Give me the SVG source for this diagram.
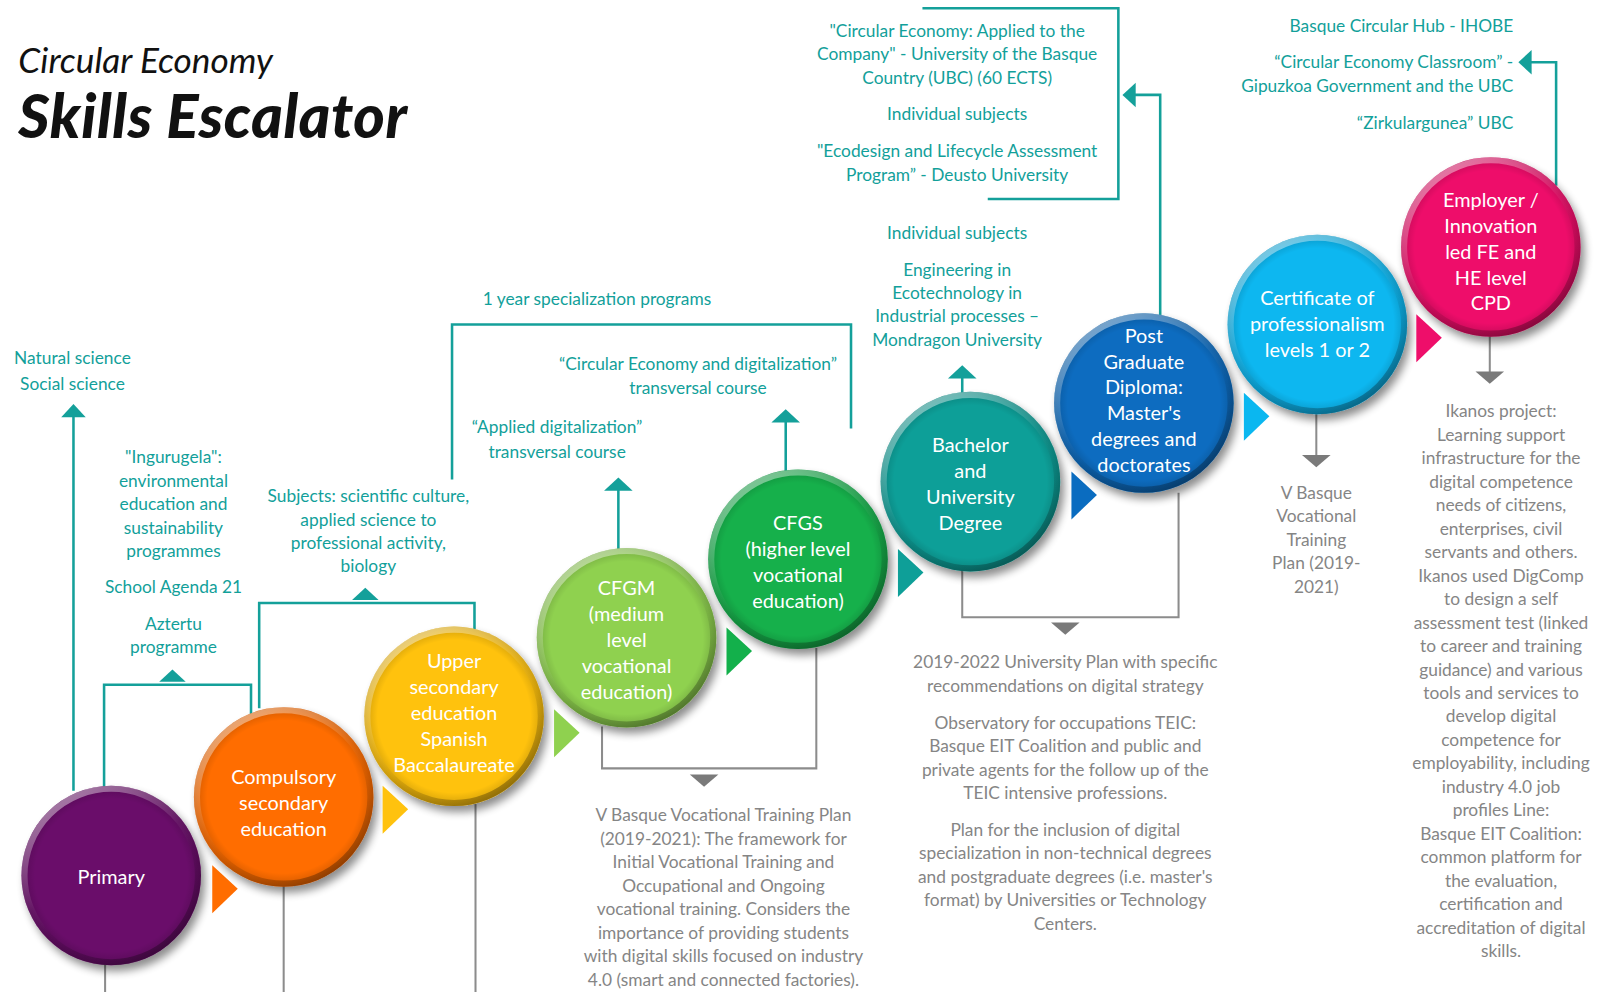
<svg xmlns="http://www.w3.org/2000/svg" width="1598" height="992" viewBox="0 0 1598 992">
<style>
.tt{font-family:Lato,"Open Sans","Liberation Sans",sans-serif;fill:#111}
.t{font-family:Lato,"Open Sans","Liberation Sans",sans-serif;font-size:17px;fill:#12a09a;text-anchor:middle}
.tr{text-anchor:end}
.g{font-family:Lato,"Open Sans","Liberation Sans",sans-serif;font-size:17px;fill:#858585;text-anchor:middle}
.w{font-family:Lato,"Open Sans","Liberation Sans",sans-serif;font-size:19.5px;fill:#fff;text-anchor:middle}
.tl{stroke:#14a09a;stroke-width:2.5;fill:none}
.gl{stroke:#8c8c8c;stroke-width:2;fill:none}
.ta{fill:#14a09a}
.ga{fill:#7a7a7a}
.ring{fill:none;stroke:url(#bevel);stroke-width:6}
.rim{fill:url(#rimg)}
</style>
<defs>
<filter id="sh" x="-25%" y="-25%" width="160%" height="160%">
<feGaussianBlur in="SourceAlpha" stdDeviation="4"/>
<feOffset dx="4" dy="6" result="o"/>
<feComponentTransfer><feFuncA type="linear" slope="0.45"/></feComponentTransfer>
<feMerge><feMergeNode/><feMergeNode in="SourceGraphic"/></feMerge>
</filter>
<linearGradient id="bevel" x1="0.2" y1="0" x2="0.8" y2="1">
<stop offset="0" stop-color="#fff" stop-opacity="0.5"/>
<stop offset="0.45" stop-color="#fff" stop-opacity="0.05"/>
<stop offset="0.6" stop-color="#000" stop-opacity="0.05"/>
<stop offset="1" stop-color="#000" stop-opacity="0.35"/>
</linearGradient>
<radialGradient id="rimg" cx="0.5" cy="0.5" r="0.5">
<stop offset="0.85" stop-color="#000" stop-opacity="0"/>
<stop offset="1" stop-color="#000" stop-opacity="0.18"/>
</radialGradient>
</defs>
<rect width="1598" height="992" fill="#fff"/>
<g transform="scale(1.0204)">
<g id="title">
<text class="tt" x="18" y="72" font-size="34.5" font-style="italic">Circular Economy</text>
<text class="tt" x="18" y="135" font-size="59" font-style="italic" font-weight="900" letter-spacing="0.6">Skills Escalator</text>
</g>

<g id="connectors">
<line class="tl" x1="72" y1="775" x2="72" y2="405"/>
<polygon class="ta" points="60,409 84,409 72,396"/>
<polyline class="tl" points="102,772 102,671 246,671 246,702"/>
<polygon class="ta" points="156,668 182,668 169,656"/>
<polyline class="tl" points="254,694 254,591 465,591 465,617"/>
<polygon class="ta" points="345,588 371,588 358,576"/>
<polyline class="tl" points="443,470 443,318 834,318 834,420"/>
<line class="tl" x1="606" y1="540" x2="606" y2="478"/>
<polygon class="ta" points="592,481 620,481 606,468"/>
<line class="tl" x1="770" y1="462" x2="770" y2="411"/>
<polygon class="ta" points="756,414 784,414 770,401"/>
<line class="tl" x1="943" y1="386" x2="943" y2="368"/>
<polygon class="ta" points="929,371 957,371 943,358"/>
<polyline class="tl" points="1137,312 1137,93 1110,93"/>
<polygon class="ta" points="1113,81 1113,105 1100,93"/>
<polyline class="tl" points="904,8 1096,8 1096,195 968,195"/>
<polyline class="tl" points="1525,182 1525,61 1498,61"/>
<polygon class="ta" points="1501,49 1501,73 1488,61"/>
<line class="gl" x1="103" y1="945" x2="103" y2="975"/>
<line class="gl" x1="278" y1="868" x2="278" y2="975"/>
<line class="gl" x1="466" y1="788" x2="466" y2="975"/>
<polyline class="gl" points="590,712 590,753 800,753 800,635"/>
<polygon class="ga" points="676,759 704,759 690,771"/>
<polyline class="gl" points="943,558 943,605 1155,605 1155,483"/>
<polygon class="ga" points="1030,610 1058,610 1044,622"/>
<line class="gl" x1="1290" y1="405" x2="1290" y2="448"/>
<polygon class="ga" points="1276,446 1304,446 1290,458"/>
<line class="gl" x1="1460" y1="328" x2="1460" y2="366"/>
<polygon class="ga" points="1446,364 1474,364 1460,376"/>
</g>

<g id="n-primary">
<circle cx="109" cy="858" r="88" fill="#6b0a6b" filter="url(#sh)"/>
<circle class="rim" cx="109" cy="858" r="88"/>
<circle class="ring" cx="109" cy="858" r="85"/>
<text class="w" x="109" y="866">Primary</text>
</g>
<g id="n-compulsory">
<polygon points="208,848 208,895 233,871" fill="#ff6d00"/>
<circle cx="278" cy="781" r="88" fill="#ff6d00" filter="url(#sh)"/>
<circle class="rim" cx="278" cy="781" r="88"/>
<circle class="ring" cx="278" cy="781" r="85"/>
<text class="w" x="278" y="768"><tspan x="278">Compulsory</tspan><tspan x="278" dy="25.5">secondary</tspan><tspan x="278" dy="25.5">education</tspan></text>
</g>
<g id="n-upper">
<polygon points="375,770 375,817 400,793" fill="#ffc20e"/>
<circle cx="445" cy="702" r="88" fill="#ffc20e" filter="url(#sh)"/>
<circle class="rim" cx="445" cy="702" r="88"/>
<circle class="ring" cx="445" cy="702" r="85"/>
<text class="w" x="445" y="655"><tspan x="445">Upper</tspan><tspan x="445" dy="25.5">secondary</tspan><tspan x="445" dy="25.5">education</tspan><tspan x="445" dy="25.5">Spanish</tspan><tspan x="445" dy="25.5">Baccalaureate</tspan></text>
</g>
<g id="n-cfgm">
<polygon points="543,695 543,742 568,718" fill="#8fd14f"/>
<circle cx="614" cy="625" r="88" fill="#8fd14f" filter="url(#sh)"/>
<circle class="rim" cx="614" cy="625" r="88"/>
<circle class="ring" cx="614" cy="625" r="85"/>
<text class="w" x="614" y="583"><tspan x="614">CFGM</tspan><tspan x="614" dy="25.5">(medium</tspan><tspan x="614" dy="25.5">level</tspan><tspan x="614" dy="25.5">vocational</tspan><tspan x="614" dy="25.5">education)</tspan></text>
</g>
<g id="n-cfgs">
<polygon points="712,615 712,662 737,638" fill="#13b04b"/>
<circle cx="782" cy="548" r="88" fill="#13b04b" filter="url(#sh)"/>
<circle class="rim" cx="782" cy="548" r="88"/>
<circle class="ring" cx="782" cy="548" r="85"/>
<text class="w" x="782" y="519"><tspan x="782">CFGS</tspan><tspan x="782" dy="25.5">(higher level</tspan><tspan x="782" dy="25.5">vocational</tspan><tspan x="782" dy="25.5">education)</tspan></text>
</g>
<g id="n-bachelor">
<polygon points="880,538 880,585 905,561" fill="#0e9f98"/>
<circle cx="951" cy="472" r="88" fill="#0e9f98" filter="url(#sh)"/>
<circle class="rim" cx="951" cy="472" r="88"/>
<circle class="ring" cx="951" cy="472" r="85"/>
<text class="w" x="951" y="443"><tspan x="951">Bachelor</tspan><tspan x="951" dy="25.5">and</tspan><tspan x="951" dy="25.5">University</tspan><tspan x="951" dy="25.5">Degree</tspan></text>
</g>
<g id="n-postgrad">
<polygon points="1050,462 1050,509 1075,485" fill="#0a6cc0"/>
<circle cx="1121" cy="395" r="88" fill="#0a6cc0" filter="url(#sh)"/>
<circle class="rim" cx="1121" cy="395" r="88"/>
<circle class="ring" cx="1121" cy="395" r="85"/>
<text class="w" x="1121" y="336"><tspan x="1121">Post</tspan><tspan x="1121" dy="25.3">Graduate</tspan><tspan x="1121" dy="25.3">Diploma:</tspan><tspan x="1121" dy="25.3">Master's</tspan><tspan x="1121" dy="25.3">degrees and</tspan><tspan x="1121" dy="25.3">doctorates</tspan></text>
</g>
<g id="n-certificate">
<polygon points="1219,385 1219,432 1244,408" fill="#0ab7f0"/>
<circle cx="1291" cy="318" r="88" fill="#0ab7f0" filter="url(#sh)"/>
<circle class="rim" cx="1291" cy="318" r="88"/>
<circle class="ring" cx="1291" cy="318" r="85"/>
<text class="w" x="1291" y="299"><tspan x="1291">Certificate of</tspan><tspan x="1291" dy="25.5">professionalism</tspan><tspan x="1291" dy="25.5">levels 1  or 2</tspan></text>
</g>
<g id="n-employer">
<polygon points="1388,308 1388,355 1413,331" fill="#ee0e6a"/>
<circle cx="1461" cy="242" r="88" fill="#ee0e6a" filter="url(#sh)"/>
<circle class="rim" cx="1461" cy="242" r="88"/>
<circle class="ring" cx="1461" cy="242" r="85"/>
<text class="w" x="1461" y="203"><tspan x="1461">Employer /</tspan><tspan x="1461" dy="25.3">Innovation</tspan><tspan x="1461" dy="25.3">led FE and</tspan><tspan x="1461" dy="25.3">HE level</tspan><tspan x="1461" dy="25.3">CPD</tspan></text>
</g>

<g id="l-primary-up">
<text class="t" x="71" y="357"><tspan x="71">Natural science</tspan><tspan x="71" dy="25">Social science</tspan></text>
</g>
<g id="l-ingurugela">
<text class="t" x="170" y="454"><tspan x="170">"Ingurugela":</tspan><tspan x="170" dy="23">environmental</tspan><tspan x="170" dy="23">education and</tspan><tspan x="170" dy="23">sustainability</tspan><tspan x="170" dy="23">programmes</tspan><tspan x="170" dy="35">School Agenda 21</tspan><tspan x="170" dy="36">Aztertu</tspan><tspan x="170" dy="23">programme</tspan></text>
</g>
<g id="l-subjects">
<text class="t" x="361" y="492"><tspan x="361">Subjects: scientific culture,</tspan><tspan x="361" dy="23">applied science to</tspan><tspan x="361" dy="23">professional activity,</tspan><tspan x="361" dy="23">biology</tspan></text>
</g>
<g id="l-1year">
<text class="t" x="585" y="299">1 year specialization programs</text>
</g>
<g id="l-applied">
<text class="t" x="546" y="424"><tspan x="546">“Applied digitalization”</tspan><tspan x="546" dy="25">transversal course</tspan></text>
</g>
<g id="l-ce-digital">
<text class="t" x="684" y="363"><tspan x="684">“Circular Economy and digitalization”</tspan><tspan x="684" dy="23">transversal course</tspan></text>
</g>
<g id="l-bachelor-up">
<text class="t" x="938" y="234"><tspan x="938">Individual subjects</tspan><tspan x="938" dy="36">Engineering in</tspan><tspan x="938" dy="23">Ecotechnology in</tspan><tspan x="938" dy="23">Industrial processes –</tspan><tspan x="938" dy="23">Mondragon University</tspan></text>
</g>
<g id="l-postgrad-up">
<text class="t" x="938" y="36"><tspan x="938">"Circular Economy: Applied to the</tspan><tspan x="938" dy="23">Company" - University of the Basque</tspan><tspan x="938" dy="23">Country (UBC) (60 ECTS)</tspan><tspan x="938" dy="36">Individual subjects</tspan><tspan x="938" dy="36">"Ecodesign and Lifecycle Assessment</tspan><tspan x="938" dy="23">Program” -  Deusto University</tspan></text>
</g>
<g id="l-employer-up">
<text class="t tr" x="1483" y="31"><tspan x="1483">Basque Circular Hub - IHOBE</tspan><tspan x="1483" dy="36">“Circular Economy Classroom” -</tspan><tspan x="1483" dy="23">Gipuzkoa Government and the UBC</tspan><tspan x="1483" dy="36">“Zirkulargunea” UBC</tspan></text>
</g>
<g id="l-vplan">
<text class="g" x="709" y="805"><tspan x="709">V Basque Vocational Training Plan</tspan><tspan x="709" dy="23">(2019-2021): The framework for</tspan><tspan x="709" dy="23">Initial Vocational Training and</tspan><tspan x="709" dy="23">Occupational and Ongoing</tspan><tspan x="709" dy="23">vocational training. Considers the</tspan><tspan x="709" dy="23">importance of providing students</tspan><tspan x="709" dy="23">with digital skills focused on industry</tspan><tspan x="709" dy="23">4.0 (smart and connected factories).</tspan></text>
</g>
<g id="l-uniplan">
<text class="g" x="1044" y="655"><tspan x="1044">2019-2022 University Plan with specific</tspan><tspan x="1044" dy="23">recommendations on digital strategy</tspan><tspan x="1044" dy="36">Observatory for occupations TEIC:</tspan><tspan x="1044" dy="23">Basque EIT Coalition and public and</tspan><tspan x="1044" dy="23">private agents for the follow up of the</tspan><tspan x="1044" dy="23">TEIC intensive professions.</tspan><tspan x="1044" dy="36">Plan for the inclusion of digital</tspan><tspan x="1044" dy="23">specialization in non-technical degrees</tspan><tspan x="1044" dy="23">and postgraduate degrees  (i.e. master's</tspan><tspan x="1044" dy="23">format) by Universities or Technology</tspan><tspan x="1044" dy="23">Centers.</tspan></text>
</g>
<g id="l-cert-down">
<text class="g" x="1290" y="489"><tspan x="1290">V Basque</tspan><tspan x="1290" dy="23">Vocational</tspan><tspan x="1290" dy="23">Training</tspan><tspan x="1290" dy="23">Plan (2019-</tspan><tspan x="1290" dy="23">2021)</tspan></text>
</g>
<g id="l-ikanos">
<text class="g" x="1471" y="409"><tspan x="1471">Ikanos project:</tspan><tspan x="1471" dy="23">Learning support</tspan><tspan x="1471" dy="23">infrastructure for the</tspan><tspan x="1471" dy="23">digital competence</tspan><tspan x="1471" dy="23">needs of citizens,</tspan><tspan x="1471" dy="23">enterprises, civil</tspan><tspan x="1471" dy="23">servants and others.</tspan><tspan x="1471" dy="23">Ikanos used DigComp</tspan><tspan x="1471" dy="23">to design a self</tspan><tspan x="1471" dy="23">assessment test (linked</tspan><tspan x="1471" dy="23">to career and training</tspan><tspan x="1471" dy="23">guidance) and various</tspan><tspan x="1471" dy="23">tools and services to</tspan><tspan x="1471" dy="23">develop digital</tspan><tspan x="1471" dy="23">competence for</tspan><tspan x="1471" dy="23">employability, including</tspan><tspan x="1471" dy="23">industry 4.0 job</tspan><tspan x="1471" dy="23">profiles Line:</tspan><tspan x="1471" dy="23">Basque EIT Coalition:</tspan><tspan x="1471" dy="23">common platform for</tspan><tspan x="1471" dy="23">the evaluation,</tspan><tspan x="1471" dy="23">certification and</tspan><tspan x="1471" dy="23">accreditation of digital</tspan><tspan x="1471" dy="23">skills.</tspan></text>
</g>
</g>
</svg>
